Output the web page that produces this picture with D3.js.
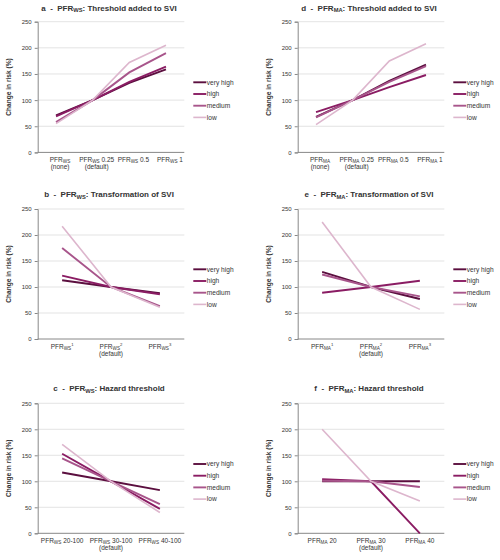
<!DOCTYPE html>
<html>
<head>
<meta charset="utf-8">
<script src="https://cdn.jsdelivr.net/npm/d3@7"></script>
<style>
  body { margin: 0; background: #fff; }
  text { font-family: "Liberation Sans", Arial, sans-serif; fill: #333; }
</style>
</head>
<body>
<script>
// series names and colours
const seriesNames = ['very high', 'high', 'medium', 'low'];
const seriesColors = ['#5b0f3f', '#8a1c63', '#a8558b', '#ddb6cd'];
const yTicks = [0, 50, 100, 150, 200, 250];

// a - PFR_WS threshold added to SVI
const catsA = ['PFR_{WS}|(none)', 'PFR_{WS} 0.25|(default)', 'PFR_{WS} 0.5', 'PFR_{WS} 1'];
const veryHighA = [71, 100, 133, 159];
const highA = [69, 100, 135, 164];
const mediumA = [58, 100, 153, 190];
const lowA = [55, 100, 172, 205];

// b - PFR_WS transformation of SVI
const catsB = ['PFR_{WS}^{1}', 'PFR_{WS}^{2}|(default)', 'PFR_{WS}^{3}'];
const veryHighB = [113, 100, 88];
const highB = [122, 100, 86];
const mediumB = [175, 100, 63];
const lowB = [217, 100, 61];

// c - PFR_WS hazard threshold
const catsC = ['PFR_{WS} 20-100', 'PFR_{WS} 30-100|(default)', 'PFR_{WS} 40-100'];
const veryHighC = [117, 100, 83];
const highC = [153, 100, 47];
const mediumC = [144, 100, 56];
const lowC = [171, 100, 40];

// d - PFR_MA threshold added to SVI
const catsD = ['PFR_{MA}|(none)', 'PFR_{MA} 0.25|(default)', 'PFR_{MA} 0.5', 'PFR_{MA} 1'];
const veryHighD = [68, 100, 137, 168];
const highD = [77, 100, 125, 148];
const mediumD = [67, 100, 135, 165];
const lowD = [53, 100, 175, 208];

// e - PFR_MA transformation of SVI
const catsE = ['PFR_{MA}^{1}', 'PFR_{MA}^{2}|(default)', 'PFR_{MA}^{3}'];
const veryHighE = [129, 100, 77];
const highE = [89, 100, 112];
const mediumE = [124, 100, 82];
const lowE = [225, 100, 57];

// f - PFR_MA hazard threshold
const catsF = ['PFR_{MA} 20', 'PFR_{MA} 30|(default)', 'PFR_{MA} 40'];
const veryHighF = [100, 100, 100];
const highF = [104, 100, 0];
const mediumF = [101, 100, 89];
const lowF = [200, 100, 62];

const panels = [
  { letter: 'a', idx: 'WS', title: ': Threshold added to SVI', cats: catsA, series: [veryHighA, highA, mediumA, lowA], col: 0, row: 0 },
  { letter: 'b', idx: 'WS', title: ': Transformation of SVI', cats: catsB, series: [veryHighB, highB, mediumB, lowB], col: 0, row: 1 },
  { letter: 'c', idx: 'WS', title: ': Hazard threshold', cats: catsC, series: [veryHighC, highC, mediumC, lowC], col: 0, row: 2 },
  { letter: 'd', idx: 'MA', title: ': Threshold added to SVI', cats: catsD, series: [veryHighD, highD, mediumD, lowD], col: 1, row: 0 },
  { letter: 'e', idx: 'MA', title: ': Transformation of SVI', cats: catsE, series: [veryHighE, highE, mediumE, lowE], col: 1, row: 1 },
  { letter: 'f', idx: 'MA', title: ': Hazard threshold', cats: catsF, series: [veryHighF, highF, mediumF, lowF], col: 1, row: 2 }
];

const colX = [37.7, 297.7];
const plotW = 146.6;
const rowTop = [21.7, 209, 403.3];
const rowBottom = [152.4, 339, 533.3];
const titleY = [10.5, 197, 391];
const legendY = [82.3, 269.3, 464];

const svg = d3.select('body').append('svg')
  .attr('width', 500)
  .attr('height', 560);

// writes "PFR_{WS} 0.25" style text with sub/superscripts into a text element
function richText(sel, str, size) {
  const re = /(_\{[^}]*\}|\^\{[^}]*\})/;
  let shift = 0;
  str.split(re).filter(s => s.length).forEach(part => {
    let t = part, dy = 0, fs = size;
    if (part.startsWith('_{')) { t = part.slice(2, -1); dy = size * 0.22; fs = size * 0.72; }
    else if (part.startsWith('^{')) { t = part.slice(2, -1); dy = -size * 0.4; fs = size * 0.65; }
    sel.append('tspan')
      .attr('dy', dy - shift)
      .style('font-size', fs + 'px')
      .text(t);
    shift = dy;
  });
}

panels.forEach(p => {
  const x0 = colX[p.col];
  const top = rowTop[p.row];
  const bottom = rowBottom[p.row];

  const x = d3.scaleBand()
    .domain(d3.range(p.cats.length))
    .range([x0, x0 + plotW]);
  const y = d3.scaleLinear()
    .domain([0, 250])
    .range([bottom, top]);

  const g = svg.append('g');

  // gridlines
  g.selectAll('.grid').data(yTicks.slice(1)).enter()
    .append('line')
    .attr('x1', x0).attr('x2', x0 + plotW)
    .attr('y1', d => y(d)).attr('y2', d => y(d))
    .attr('stroke', '#dcdcdc')
    .attr('stroke-width', 0.8);

  // y axis
  const yAxis = g.append('g')
    .attr('transform', 'translate(' + x0 + ',0)')
    .call(d3.axisLeft(y).tickValues(yTicks).tickSize(3).tickPadding(3));
  yAxis.select('.domain').attr('stroke', '#888');
  yAxis.selectAll('.tick line').attr('stroke', '#888');
  yAxis.selectAll('.tick text')
    .style('font-size', '6px')
    .style('font-family', '"Liberation Sans", Arial, sans-serif')
    .attr('fill', '#444');

  // x axis line
  g.append('line')
    .attr('x1', x0).attr('x2', x0 + plotW)
    .attr('y1', bottom).attr('y2', bottom)
    .attr('stroke', '#888');

  // category labels
  const shift = p.cats.length === 4 ? 4 : 0;
  p.cats.forEach((c, i) => {
    const lines = c.split('|');
    lines.forEach((ln, j) => {
      const t = g.append('text')
        .attr('x', x(i) + x.bandwidth() / 2 + shift)
        .attr('y', bottom + 9.5 + j * 7.2)
        .attr('text-anchor', 'middle')
        .style('font-size', '6.5px')
        .attr('fill', '#444');
      richText(t, ln, 6.5);
    });
  });

  // lines
  const line = d3.line()
    .x((d, i) => x(i) + x.bandwidth() / 2)
    .y(d => y(d));
  p.series.forEach((s, k) => {
    g.append('path')
      .datum(s)
      .attr('d', line)
      .attr('fill', 'none')
      .attr('stroke', seriesColors[k])
      .attr('stroke-width', k === 3 ? 1.6 : 1.9);
  });

  // title
  const tt = g.append('text')
    .attr('x', x0 + plotW / 2 - 2)
    .attr('y', titleY[p.row])
    .attr('text-anchor', 'middle')
    .style('font-size', '8px')
    .style('font-weight', 'bold')
    .style('white-space', 'pre')
    .attr('fill', '#222');
  richText(tt, p.letter + '  -  PFR_{' + p.idx + '}' + p.title, 8);

  // y label
  g.append('text')
    .attr('transform', 'translate(' + (x0 - 26.5) + ',' + ((top + bottom) / 2) + ') rotate(-90)')
    .attr('text-anchor', 'middle')
    .style('font-size', '6.6px')
    .style('font-weight', 'bold')
    .attr('fill', '#222')
    .text('Change in risk (%)');

  // legend
  const lx = x0 + plotW + 9;
  seriesNames.forEach((n, k) => {
    const ly = legendY[p.row] + k * 11.7;
    g.append('line')
      .attr('x1', lx).attr('x2', lx + 13)
      .attr('y1', ly).attr('y2', ly)
      .attr('stroke', seriesColors[k])
      .attr('stroke-width', k === 3 ? 1.6 : 1.9);
    g.append('text')
      .attr('x', lx + 13.5)
      .attr('y', ly + 2.3)
      .style('font-size', '6.6px')
      .attr('fill', '#444')
      .text(n);
  });
});
</script>
</body>
</html>
